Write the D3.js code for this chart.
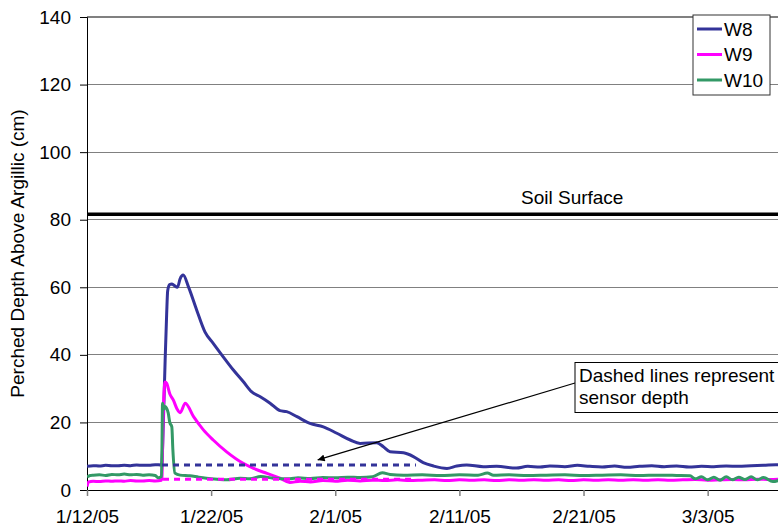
<!DOCTYPE html>
<html>
<head>
<meta charset="utf-8">
<script src="https://cdn.jsdelivr.net/npm/d3@7"></script>
<style>
  html, body { margin: 0; padding: 0; background: #fff; }
  svg { display: block; font-family: "Liberation Sans", Arial, sans-serif; }
</style>
</head>
<body>
<svg id="chart" width="778" height="531"></svg>
<script>
// Perched water depth above the argillic horizon, three wells (cm)
const w8 = [
  ["2005-01-12 00:00", 7.0], ["2005-01-12 12:00", 7.2], ["2005-01-13 00:00", 7.1],
  ["2005-01-13 12:00", 7.3], ["2005-01-14 00:00", 7.2], ["2005-01-14 12:00", 7.2],
  ["2005-01-15 00:00", 7.3], ["2005-01-15 12:00", 7.2], ["2005-01-16 00:00", 7.4],
  ["2005-01-16 12:00", 7.3], ["2005-01-17 00:00", 7.3], ["2005-01-17 12:00", 7.5],
  ["2005-01-18 00:00", 7.4], ["2005-01-18 01:00", 8.5], ["2005-01-18 04:00", 22],
  ["2005-01-18 07:00", 38], ["2005-01-18 10:00", 52], ["2005-01-18 12:00", 59],
  ["2005-01-18 16:00", 60.8], ["2005-01-18 20:00", 61], ["2005-01-19 00:00", 60.6],
  ["2005-01-19 07:00", 60], ["2005-01-19 12:00", 62.5], ["2005-01-19 18:00", 63.6],
  ["2005-01-20 04:00", 60.2], ["2005-01-20 20:00", 53.3], ["2005-01-21 12:00", 46.8],
  ["2005-01-22 04:00", 43.4], ["2005-01-22 23:00", 39.5], ["2005-01-23 19:00", 35.5],
  ["2005-01-24 14:00", 32.1], ["2005-01-25 06:00", 29.1], ["2005-01-25 23:00", 27.6],
  ["2005-01-26 18:00", 25.7], ["2005-01-27 13:00", 23.5], ["2005-01-28 02:00", 23.2],
  ["2005-01-28 22:00", 21.7], ["2005-01-29 23:00", 19.7], ["2005-01-31 01:00", 18.7],
  ["2005-02-01 03:00", 16.8], ["2005-02-02 05:00", 14.8], ["2005-02-03 00:00", 13.8],
  ["2005-02-04 08:00", 14.0], ["2005-02-04 21:00", 12.8], ["2005-02-05 10:00", 11.3],
  ["2005-02-06 12:00", 11.0], ["2005-02-07 07:00", 9.9], ["2005-02-08 02:00", 8.1],
  ["2005-02-08 22:00", 7.1], ["2005-02-10 00:00", 6.4], ["2005-02-10 19:00", 7.1],
  ["2005-02-11 14:00", 7.4], ["2005-02-12 22:00", 6.9], ["2005-02-14 00:00", 7.0],
  ["2005-02-15 14:00", 6.5], ["2005-02-16 12:00", 7.0], ["2005-02-17 12:00", 6.8],
  ["2005-02-18 07:00", 7.1], ["2005-02-19 12:00", 6.9], ["2005-02-20 12:00", 7.3],
  ["2005-02-21 12:00", 7.0], ["2005-02-22 12:00", 6.8], ["2005-02-23 12:00", 7.1],
  ["2005-02-24 12:00", 6.7], ["2005-02-25 12:00", 7.0], ["2005-02-26 12:00", 7.2],
  ["2005-02-27 12:00", 6.9], ["2005-02-28 12:00", 7.1], ["2005-03-01 12:00", 6.8],
  ["2005-03-02 12:00", 7.0], ["2005-03-03 12:00", 6.9], ["2005-03-04 12:00", 7.1],
  ["2005-03-05 12:00", 7.0], ["2005-03-06 12:00", 7.2], ["2005-03-07 12:00", 7.3],
  ["2005-03-08 12:00", 7.5], ["2005-03-09 00:00", 7.4]
];

const w9 = [
  ["2005-01-12 00:00", 1.0], ["2005-01-12 03:00", 2.4], ["2005-01-12 12:00", 2.6],
  ["2005-01-13 00:00", 2.5], ["2005-01-13 12:00", 2.7], ["2005-01-14 00:00", 2.6],
  ["2005-01-14 12:00", 2.7], ["2005-01-15 00:00", 2.6], ["2005-01-15 12:00", 2.8],
  ["2005-01-16 00:00", 2.7], ["2005-01-16 12:00", 2.7], ["2005-01-17 00:00", 2.8],
  ["2005-01-17 12:00", 2.7], ["2005-01-18 00:00", 2.9], ["2005-01-18 01:00", 4.0],
  ["2005-01-18 03:00", 20], ["2005-01-18 07:00", 32], ["2005-01-18 10:00", 31.6],
  ["2005-01-18 16:00", 28.5], ["2005-01-18 23:00", 26.6], ["2005-01-19 06:00", 24],
  ["2005-01-19 12:00", 22.9], ["2005-01-19 22:00", 25.7], ["2005-01-20 14:00", 21.7],
  ["2005-01-21 09:00", 17.8], ["2005-01-22 04:00", 14.8], ["2005-01-23 06:00", 11.3],
  ["2005-01-24 14:00", 7.9], ["2005-01-25 10:00", 6.4], ["2005-01-26 12:00", 4.9],
  ["2005-01-27 13:00", 3.5], ["2005-01-28 08:00", 2.2], ["2005-01-29 04:00", 2.6],
  ["2005-01-30 00:00", 2.4], ["2005-01-31 00:00", 2.8], ["2005-02-01 00:00", 2.6],
  ["2005-02-02 00:00", 2.9], ["2005-02-03 00:00", 2.7], ["2005-02-04 00:00", 2.9],
  ["2005-02-05 00:00", 2.8], ["2005-02-06 00:00", 3.0], ["2005-02-07 00:00", 2.8],
  ["2005-02-08 00:00", 2.9], ["2005-02-09 00:00", 3.0], ["2005-02-10 00:00", 2.8],
  ["2005-02-11 00:00", 3.0], ["2005-02-12 00:00", 2.9], ["2005-02-13 00:00", 3.0],
  ["2005-02-14 00:00", 2.8], ["2005-02-15 00:00", 3.0], ["2005-02-16 00:00", 2.9],
  ["2005-02-17 00:00", 3.0], ["2005-02-18 00:00", 2.9], ["2005-02-19 00:00", 3.0],
  ["2005-02-20 00:00", 2.8], ["2005-02-21 00:00", 3.0], ["2005-02-22 00:00", 2.9],
  ["2005-02-23 00:00", 3.0], ["2005-02-24 00:00", 2.9], ["2005-02-25 00:00", 3.0],
  ["2005-02-26 00:00", 2.9], ["2005-02-27 00:00", 3.0], ["2005-02-28 00:00", 2.9],
  ["2005-03-01 00:00", 3.0], ["2005-03-02 00:00", 3.1], ["2005-03-03 00:00", 2.9],
  ["2005-03-04 00:00", 3.0], ["2005-03-05 00:00", 3.1], ["2005-03-06 00:00", 3.0],
  ["2005-03-07 00:00", 3.2], ["2005-03-08 00:00", 3.1], ["2005-03-09 00:00", 3.3]
];

const w10 = [
  ["2005-01-12 00:00", 3.9], ["2005-01-12 06:00", 4.3], ["2005-01-12 12:00", 4.4],
  ["2005-01-13 00:00", 4.5], ["2005-01-13 12:00", 4.3], ["2005-01-14 00:00", 4.6],
  ["2005-01-14 12:00", 4.5], ["2005-01-15 00:00", 4.7], ["2005-01-15 12:00", 4.5],
  ["2005-01-16 00:00", 4.6], ["2005-01-16 12:00", 4.4], ["2005-01-17 00:00", 4.5],
  ["2005-01-17 12:00", 4.3], ["2005-01-17 18:00", 3.6], ["2005-01-18 00:00", 4.0],
  ["2005-01-18 01:00", 12.8], ["2005-01-18 02:00", 25.7], ["2005-01-18 05:00", 24.0],
  ["2005-01-18 07:00", 24.7], ["2005-01-18 13:00", 22.8], ["2005-01-18 16:00", 20.0],
  ["2005-01-18 20:00", 18.7], ["2005-01-18 22:00", 12.0], ["2005-01-19 02:00", 5.0],
  ["2005-01-19 12:00", 4.4], ["2005-01-20 07:00", 4.2], ["2005-01-21 00:00", 3.8],
  ["2005-01-21 15:00", 3.5], ["2005-01-22 12:00", 3.2], ["2005-01-23 06:00", 3.0],
  ["2005-01-24 08:00", 3.5], ["2005-01-25 03:00", 3.3], ["2005-01-26 00:00", 4.0],
  ["2005-01-27 00:00", 3.5], ["2005-01-28 08:00", 3.3], ["2005-01-29 00:00", 3.6],
  ["2005-01-30 00:00", 3.4], ["2005-01-31 00:00", 3.7], ["2005-02-01 00:00", 3.6],
  ["2005-02-02 00:00", 3.8], ["2005-02-03 00:00", 3.7], ["2005-02-04 00:00", 3.9],
  ["2005-02-04 19:00", 5.1], ["2005-02-05 10:00", 4.6], ["2005-02-06 12:00", 4.4],
  ["2005-02-08 00:00", 4.5], ["2005-02-09 12:00", 4.3], ["2005-02-11 00:00", 4.5],
  ["2005-02-12 12:00", 4.4], ["2005-02-13 06:00", 5.0], ["2005-02-13 18:00", 4.4],
  ["2005-02-15 00:00", 4.5], ["2005-02-16 12:00", 4.3], ["2005-02-18 00:00", 4.4],
  ["2005-02-19 12:00", 4.5], ["2005-02-21 00:00", 4.3], ["2005-02-22 12:00", 4.4],
  ["2005-02-24 00:00", 4.5], ["2005-02-25 12:00", 4.3], ["2005-02-27 00:00", 4.4],
  ["2005-02-28 12:00", 4.3], ["2005-03-01 14:00", 4.2], ["2005-03-02 00:00", 3.3],
  ["2005-03-02 12:00", 3.9], ["2005-03-03 00:00", 3.0], ["2005-03-03 12:00", 3.8],
  ["2005-03-04 00:00", 2.9], ["2005-03-04 12:00", 3.9], ["2005-03-05 00:00", 3.0],
  ["2005-03-05 12:00", 3.8], ["2005-03-06 00:00", 3.1], ["2005-03-06 12:00", 3.9],
  ["2005-03-07 00:00", 3.0], ["2005-03-07 12:00", 3.7], ["2005-03-08 06:00", 2.5],
  ["2005-03-09 00:00", 3.2]
];

// Sensor depths shown as dashed reference lines
const sensorLines = [
  { name: "W8", start: "2005-01-18 01:00", end: "2005-02-07 12:00", depth: 7.4 },
  { name: "W9", start: "2005-01-18 03:00", end: "2005-02-07 12:00", depth: 3.2 }
];

const soilSurface = 81.6;
const seriesNames = ["W8", "W9", "W10"];
const seriesColors = ["#333399", "#FF00FF", "#339966"];
const yTicks = [0, 20, 40, 60, 80, 100, 120, 140];
const xTickDates = ["2005-01-12 00:00", "2005-01-22 00:00", "2005-02-01 00:00",
                    "2005-02-11 00:00", "2005-02-21 00:00", "2005-03-03 00:00"];
const xDomain = ["2005-01-12 00:00", "2005-03-08 16:00"];
const yTitle = "Perched Depth Above Argillic (cm)";
const noteLines = ["Dashed lines represent", "sensor depth"];
const noteTarget = ["2005-01-30 14:00", 8.9];

const parse = d3.timeParse("%Y-%m-%d %H:%M");
const fmt = d3.timeFormat("%-m/%-d/%y");
const FONT = 19;

const svg = d3.select("#chart");
const plotLeft = 87, plotRight = 778, plotTop = 17, plotBottom = 490;

const x = d3.scaleTime().domain(xDomain.map(parse)).range([plotLeft, plotRight]);
const y = d3.scaleLinear().domain([0, 140]).range([plotBottom, plotTop]);

svg.append("rect").attr("width", 778).attr("height", 531).attr("fill", "#fff");

// horizontal gridlines
svg.append("g").selectAll("line").data(yTicks.filter(v => v > 0)).join("line")
  .attr("x1", plotLeft).attr("x2", plotRight)
  .attr("y1", d => y(d)).attr("y2", d => y(d))
  .attr("stroke", "#808080").attr("stroke-width", 1.2).attr("shape-rendering", "crispEdges");

// y axis
const yAxis = svg.append("g").attr("transform", `translate(${plotLeft},0)`)
  .call(d3.axisLeft(y).tickValues(yTicks).tickSize(7).tickPadding(9));
yAxis.select(".domain").attr("stroke", "#000");
yAxis.selectAll(".tick line").attr("stroke", "#000");
yAxis.selectAll("text").attr("font-size", FONT).attr("fill", "#000")
  .attr("font-family", "Liberation Sans, Arial, sans-serif");

// x axis
const xAxis = svg.append("g").attr("transform", `translate(0,${plotBottom})`)
  .call(d3.axisBottom(x).tickValues(xTickDates.map(parse)).tickFormat(fmt)
        .tickSize(6).tickPadding(14).tickSizeOuter(0));
xAxis.select(".domain").attr("stroke", "#000");
xAxis.selectAll(".tick line").attr("stroke", "#808080").attr("stroke-width", 1.5);
xAxis.selectAll("text").attr("font-size", FONT).attr("fill", "#000")
  .attr("font-family", "Liberation Sans, Arial, sans-serif");

// y axis title
svg.append("text")
  .attr("transform", `translate(24,${(plotTop + plotBottom) / 2}) rotate(-90)`)
  .attr("text-anchor", "middle").attr("font-size", FONT).attr("fill", "#000")
  .text(yTitle);

// soil surface reference
svg.append("line")
  .attr("x1", plotLeft).attr("x2", plotRight)
  .attr("y1", y(soilSurface)).attr("y2", y(soilSurface))
  .attr("stroke", "#000").attr("stroke-width", 3.5);
svg.append("text").attr("x", 521).attr("y", y(soilSurface) - 10.5)
  .attr("font-size", FONT).attr("fill", "#000").text("Soil Surface");

svg.append("clipPath").attr("id", "plotClip")
  .append("rect").attr("x", plotLeft).attr("y", plotTop)
  .attr("width", plotRight - plotLeft).attr("height", plotBottom - plotTop);

const plot = svg.append("g").attr("clip-path", "url(#plotClip)");
const line = d3.line().curve(d3.curveMonotoneX)
  .x(d => x(parse(d[0]))).y(d => y(d[1]));

[w8, w9, w10].forEach((data, i) => {
  plot.append("path").datum(data)
    .attr("d", line).attr("fill", "none")
    .attr("stroke", seriesColors[i]).attr("stroke-width", 3)
    .attr("stroke-linejoin", "round");
});

// dashed sensor-depth lines
sensorLines.forEach(s => {
  const i = seriesNames.indexOf(s.name);
  plot.append("line")
    .attr("x1", x(parse(s.start))).attr("x2", x(parse(s.end)))
    .attr("y1", y(s.depth)).attr("y2", y(s.depth))
    .attr("stroke", seriesColors[i]).attr("stroke-width", 3)
    .attr("stroke-dasharray", "6,5");
});

// legend
const lg = svg.append("g");
lg.append("rect").attr("x", 693).attr("y", 15).attr("width", 77).attr("height", 80)
  .attr("fill", "#fff").attr("stroke", "#333").attr("stroke-width", 1);
seriesNames.forEach((n, i) => {
  const cy = 29 + i * 25.5;
  lg.append("line").attr("x1", 697).attr("x2", 722).attr("y1", cy).attr("y2", cy)
    .attr("stroke", seriesColors[i]).attr("stroke-width", 3);
  lg.append("text").attr("x", 724).attr("y", cy).attr("dy", "0.35em")
    .attr("font-size", FONT).attr("fill", "#000").text(n);
});

// annotation box with arrow
svg.append("defs").append("marker").attr("id", "arrowHead")
  .attr("viewBox", "0 0 10 10").attr("refX", 10).attr("refY", 5)
  .attr("markerWidth", 9).attr("markerHeight", 7).attr("markerUnits", "userSpaceOnUse")
  .attr("orient", "auto")
  .append("path").attr("d", "M0,0 L10,5 L0,10 Z").attr("fill", "#000");

svg.append("line")
  .attr("x1", 575).attr("y1", 383)
  .attr("x2", x(parse(noteTarget[0]))).attr("y2", y(noteTarget[1]))
  .attr("stroke", "#000").attr("stroke-width", 1.2)
  .attr("marker-end", "url(#arrowHead)");

svg.append("rect").attr("x", 575).attr("y", 362.5).attr("width", 230).attr("height", 50)
  .attr("fill", "#fff").attr("stroke", "#000").attr("stroke-width", 1);
noteLines.forEach((t, i) => {
  svg.append("text").attr("x", 579).attr("y", 381.5 + i * 22)
    .attr("font-size", FONT).attr("fill", "#000").text(t);
});
</script>
</body>
</html>
